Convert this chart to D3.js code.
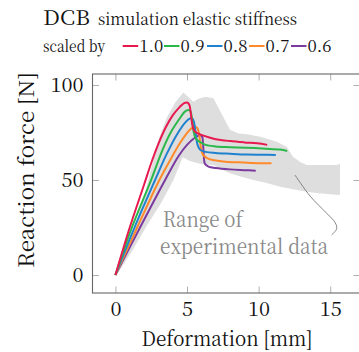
<!DOCTYPE html>
<html><head><meta charset="utf-8">
<script src="https://cdn.jsdelivr.net/npm/d3@7/dist/d3.min.js"></script>
<style>body{margin:0;background:#fff}svg{display:block}</style>
</head><body><svg id="c" width="359" height="352"></svg>
<script>
// ---- data ----
const xTicks = [0, 5, 10, 15];
const yTicks = [0, 50, 100];
const seriesNames = ["1.0", "0.9", "0.8", "0.7", "0.6"];
const seriesColors = ["#e8194f", "#2bb84a", "#1f82cf", "#ff8a2a", "#7b3aa0"];
const s10 = [[0,0],[1,25],[2,47.5],[2.55,60],[3,69],[3.5,77.5],[4,84],[4.5,88.5],[4.8,90.5],[5.0,90.8],[5.15,89.8],[5.25,86],[5.35,80],[5.5,76],[5.75,74.5],[6.1,73.5],[6.5,72.5],[7,71.5],[8,70.5],[9,69.8],[9.9,69.3],[10.6,68.5]];
const s09 = [[0,0],[1.15,25],[2.49,50],[3.3,66],[3.9,75.5],[4.5,82.5],[4.85,86],[5.1,86.9],[5.25,86],[5.35,82],[5.45,76],[5.6,72],[5.9,70],[6.3,68.5],[7,67.7],[8,67.3],[9.2,67],[10.5,66.5],[11.5,66],[12.0,65.3]];
const s08 = [[0,0],[1.33,25],[2.77,50],[3.6,64],[4.3,74],[4.9,80.5],[5.2,82.4],[5.38,82.3],[5.5,80],[5.6,75],[5.72,69],[5.9,66],[6.3,64.8],[7,64.2],[8,63.8],[9.2,63.4],[10.3,63.3],[11.2,63.2]];
const s07 = [[0,0],[1.52,25],[3.07,50],[3.9,61.5],[4.6,70.5],[5.2,76.5],[5.55,78],[5.72,77.3],[5.85,74],[5.95,68],[6.1,63.5],[6.4,61.5],[6.8,60.5],[7.5,59.8],[8.5,59.3],[9.5,59],[10.9,58.8]];
const s06 = [[0,0],[1.72,25],[3.47,50],[4.4,62.5],[5.0,68.5],[5.5,72],[5.9,73.6],[6.05,73],[6.12,69],[6.17,63],[6.25,58.5],[6.5,57],[7,56.3],[8,55.6],[9,55.2],[9.8,54.9]];
const allSeries = [s10, s09, s08, s07, s06];
const bandUpper = [[0,0],[1,17],[2,41],[3,71],[3.6,83],[4.2,91],[4.75,96],[5.1,93.5],[5.44,91.2],[5.8,92.8],[6.3,93.8],[6.85,93],[7.4,85],[8.0,76.5],[8.6,74.5],[9.3,74],[10.1,72.8],[10.7,71.5],[11.26,70.2],[11.96,67.5],[12.4,62.3],[12.9,59.5],[13.36,57.9],[14.2,57.9],[15.0,57.9],[15.45,57.9],[15.68,58.5]];
const bandLower = [[15.68,42.1],[15.0,42.5],[14.2,43],[13.36,43.8],[12.5,45],[11.5,46.5],[10.5,48.5],[9.63,50],[8.8,51.7],[8.0,53.5],[7.4,55.5],[6.84,57.9],[6.3,58],[5.9,58.5],[5.2,60],[4.7,62],[4.05,50],[3.2,38],[2.2,26],[1.2,13],[0.3,2.5],[0,0]];
const connector = [[12.54,52.6],[13.6,41.5],[14.75,32.5],[15.35,27.5],[15.45,24.3],[15.1,21.1]];

// ---- layout ----
const FONT = '"Noto Serif CJK SC", "Liberation Serif", serif';
const svg = d3.select("#c");
const L = 92.5, R = 360, T = 74, B = 293;
const x = d3.scaleLinear().domain([-1.6, 17.08]).range([L, R]);
const y = d3.scaleLinear().domain([-9.47, 105.8]).range([B, T]);

function txt(sel) { return sel.style("font-family", FONT); }

// band
const band = bandUpper.concat(bandLower);
svg.append("path")
  .attr("d", d3.line().x(d => x(d[0])).y(d => y(d[1]))(band) + "Z")
  .attr("fill", "#dedede").attr("stroke", "none");

// series
const lineC = d3.line().x(d => x(d[0])).y(d => y(d[1])).curve(d3.curveCatmullRom.alpha(0.5));
allSeries.slice().reverse().forEach((s, i) => {
  const idx = allSeries.length - 1 - i;
  svg.append("path").attr("d", lineC(s)).attr("fill", "none")
    .attr("stroke", seriesColors[idx]).attr("stroke-width", 2).attr("stroke-linejoin", "round");
});

// connector
svg.append("path").attr("d", lineC(connector)).attr("fill", "none")
  .attr("stroke", "#777").attr("stroke-width", 0.9);

// annotation text
txt(svg.append("text")).attr("x", x(3.3)).attr("y", y(25.5)).attr("fill", "#8a8a8a")
  .attr("font-size", 21).attr("textLength", 80).attr("lengthAdjust", "spacingAndGlyphs").text("Range of");
txt(svg.append("text")).attr("x", x(3.12)).attr("y", y(11.1)).attr("fill", "#8a8a8a")
  .attr("font-size", 21).attr("textLength", 168).attr("lengthAdjust", "spacingAndGlyphs").text("experimental data");

// axes box
const tl = 6.5;
const gAx = svg.append("g");
gAx.append("g").attr("transform", `translate(0,${B})`)
  .call(d3.axisBottom(x).tickValues(xTicks).tickSize(-tl).tickPadding(9).tickFormat(d3.format("d")))
  .call(g => g.select(".domain").remove());
gAx.append("g").attr("transform", `translate(0,${T})`)
  .call(d3.axisTop(x).tickValues(xTicks).tickSize(-tl).tickFormat(""))
  .call(g => g.select(".domain").remove());
gAx.append("g").attr("transform", `translate(${L},0)`)
  .call(d3.axisLeft(y).tickValues(yTicks).tickSize(-tl).tickPadding(9).tickFormat(d3.format("d")))
  .call(g => g.select(".domain").remove());
gAx.append("g").attr("transform", `translate(${R},0)`)
  .call(d3.axisRight(y).tickValues(yTicks).tickSize(-tl).tickFormat(""))
  .call(g => g.select(".domain").remove());
gAx.selectAll(".tick line").attr("stroke", "#9a9a9a").attr("stroke-width", 0.8);
gAx.selectAll(".tick text").style("font-family", FONT).attr("font-size", 20).attr("fill", "#111");
svg.append("rect").attr("x", L).attr("y", T).attr("width", R - L).attr("height", B - T)
  .attr("fill", "none").attr("stroke", "#666").attr("stroke-width", 1.1);

// axis labels
txt(svg.append("text")).attr("x", 227).attr("y", 346).attr("text-anchor", "middle")
  .attr("font-size", 20).attr("fill", "#111").attr("textLength", 171).attr("lengthAdjust", "spacingAndGlyphs").text("Deformation [mm]");
txt(svg.append("text")).attr("transform", "translate(34,170) rotate(-90)").attr("text-anchor", "middle")
  .attr("font-size", 21).attr("fill", "#111").attr("textLength", 196).attr("lengthAdjust", "spacingAndGlyphs").text("Reaction force [N]");

// title
txt(svg.append("text")).attr("x", 43).attr("y", 25).attr("font-size", 20).attr("fill", "#111")
  .attr("textLength", 47).attr("lengthAdjust", "spacingAndGlyphs").text("DCB");
txt(svg.append("text")).attr("x", 98).attr("y", 25).attr("font-size", 16).attr("fill", "#111")
  .attr("textLength", 199).attr("lengthAdjust", "spacingAndGlyphs").text("simulation elastic stiffness");
txt(svg.append("text")).attr("x", 43).attr("y", 51.5).attr("font-size", 16).attr("fill", "#111")
  .attr("textLength", 62).attr("lengthAdjust", "spacingAndGlyphs").text("scaled by");

// legend
const legStarts = [122.7, 164, 207, 249, 291];
seriesNames.forEach((n, i) => {
  const sx = legStarts[i];
  svg.append("line").attr("x1", sx).attr("x2", sx + 15.5).attr("y1", 46).attr("y2", 46)
    .attr("stroke", seriesColors[i]).attr("stroke-width", 2);
  txt(svg.append("text")).attr("x", sx + 16.5).attr("y", 51.5).attr("font-size", 17).attr("fill", "#111")
    .attr("textLength", 24).attr("lengthAdjust", "spacingAndGlyphs").text(n);
});
</script></body></html>
